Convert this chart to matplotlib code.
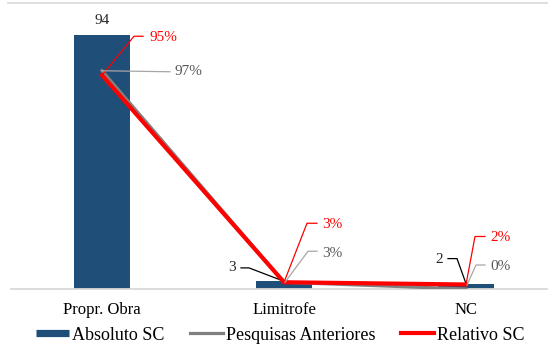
import matplotlib
matplotlib.use('Agg')
import matplotlib.pyplot as plt
import matplotlib.transforms as mtransforms
from matplotlib.lines import Line2D
import numpy as np

plt.rcParams['font.family'] = ['Liberation Serif', 'DejaVu Serif']

categories = ['Propr. Obra', 'Limitrofe', 'NC']
absoluto_sc = [94, 3, 2]
pesquisas_anteriores = [0.97, 0.03, 0.00]
relativo_sc = [0.95, 0.03, 0.02]

blue = '#1F4E79'
gray = '#808080'
red = '#FF0000'

W, H = 548, 349
fig = plt.figure(figsize=(W / 100, H / 100), dpi=100)
ax = fig.add_axes([11 / W, 60 / H, 546 / W, 270 / H])
ax2 = ax.twinx()

x = np.arange(len(categories))
bars = ax.bar(x, absoluto_sc, width=0.313, color=blue, zorder=2)
ax2.plot(x, pesquisas_anteriores, color=gray, lw=2.3, zorder=3, solid_joinstyle='miter')
ax2.plot(x, relativo_sc, color=red, lw=3.0, zorder=4, solid_joinstyle='miter')

ax.set_xlim(-0.5, 2.5)
ax.set_ylim(0, 100)
ax2.set_ylim(0, 1.2)

for a in (ax, ax2):
    for side in ('top', 'right', 'left'):
        a.spines[side].set_visible(False)
    a.set_yticks([])
ax2.spines['bottom'].set_visible(False)
ax.spines['bottom'].set_color('#D9D9D9')
ax.spines['bottom'].set_linewidth(1.3)
ax.set_xticks(x)
ax.set_xticklabels(categories, fontsize=12)
ax.tick_params(axis='x', length=0, pad=9)


def leader(axis, xv, yv, pts, text, tx, ty, color, tcolor, ha='left'):
    # polyline and label placed in pixel offsets from a data point
    tr = mtransforms.IdentityTransform() + mtransforms.ScaledTranslation(xv, yv, axis.transData)
    xs = [p[0] for p in pts]
    ys = [p[1] for p in pts]
    axis.add_line(Line2D(xs, ys, transform=tr, color=color, lw=0.9, clip_on=False, zorder=6))
    axis.annotate(text, (xv, yv), xytext=(tx, ty), textcoords='offset pixels',
                  ha=ha, va='center', fontsize=11, color=tcolor, zorder=7)


# bar value labels
ax.annotate(str(absoluto_sc[0]), (x[0], absoluto_sc[0]), xytext=(0, 15),
            textcoords='offset pixels', ha='center', va='center', fontsize=11, color='#262626')
leader(ax, x[1], absoluto_sc[1], [(-1, 0), (-35, 13), (-43, 13)], str(absoluto_sc[1]),
       -48, 13, 'black', '#262626', ha='right')
leader(ax, x[2], absoluto_sc[2], [(0, 0), (-9, 25), (-18, 25)], str(absoluto_sc[2]),
       -23, 24, 'black', '#262626', ha='right')

pct = lambda v: f'{v * 100:.0f}%'

# relative labels
leader(ax2, x[0], relativo_sc[0], [(0, 0), (32, 39), (41, 39)], pct(relativo_sc[0]),
       48, 38, red, red)
leader(ax2, x[1], relativo_sc[1], [(0, 0), (23, 59), (33, 59)], pct(relativo_sc[1]),
       38, 58, red, red)
leader(ax2, x[2], relativo_sc[2], [(0, 0), (9, 48), (19, 48)], pct(relativo_sc[2]),
       24, 47, red, red)

# previous survey labels
leader(ax2, x[0], pesquisas_anteriores[0], [(0, 0), (68, -1)], pct(pesquisas_anteriores[0]),
       73, -1, '#A6A6A6', '#595959')
leader(ax2, x[1], pesquisas_anteriores[1], [(1, 0), (24, 31), (33, 31)], pct(pesquisas_anteriores[1]),
       38, 29, '#A6A6A6', '#595959')
leader(ax2, x[2], pesquisas_anteriores[2], [(1, 4), (10, 24), (19, 24)], pct(pesquisas_anteriores[2]),
       24, 22, '#A6A6A6', '#595959')

# thin rule along the top edge
fig.add_artist(Line2D([8 / W, 1], [1 - 2.5 / H, 1 - 2.5 / H], transform=fig.transFigure,
                      color='#D9D9D9', lw=1.2))

handles = [Line2D([], [], color=blue, lw=5.2, solid_capstyle='butt'),
           Line2D([], [], color=gray, lw=2.3),
           Line2D([], [], color=red, lw=3.0)]
labels = ['Absoluto SC', 'Pesquisas Anteriores', 'Relativo SC']
fig.legend(handles, labels, loc='center', bbox_to_anchor=(280 / W, 1 - 335 / H), ncol=3,
           frameon=False, fontsize=13, handlelength=1.85, handletextpad=0.15,
           columnspacing=1.4, borderaxespad=0, borderpad=0)

fig.savefig('out.png', dpi=100)
